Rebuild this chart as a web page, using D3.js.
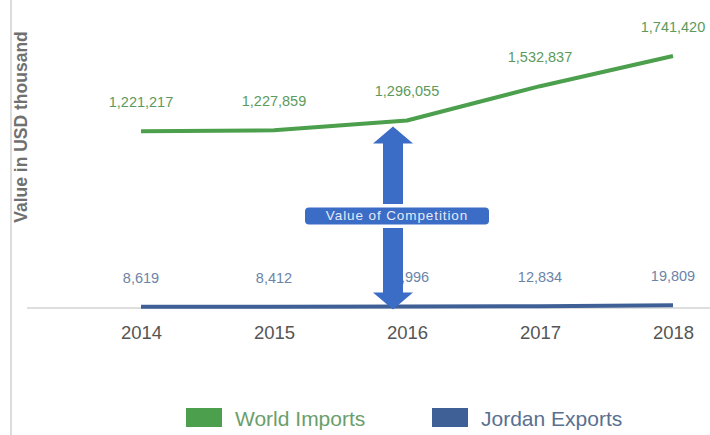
<!DOCTYPE html>
<html>
<head>
<meta charset="utf-8">
<script src="https://cdn.jsdelivr.net/npm/d3@7"></script>
<style>
  html, body { margin: 0; padding: 0; background: #ffffff; }
  svg { display: block; font-family: "Liberation Sans", Arial, sans-serif; }
</style>
</head>
<body>
<svg id="chart" width="710" height="435"></svg>
<script>
// Years on the category axis
const years = ["2014", "2015", "2016", "2017", "2018"];
// World imports, value in USD thousand
const worldImports = [1221217, 1227859, 1296055, 1532837, 1741420];
// Jordan exports, value in USD thousand
const jordanExports = [8619, 8412, 10996, 12834, 19809];
// Legend entries
const seriesNames = ["World Imports", "Jordan Exports"];
const annotationText = "Value of Competition";
const yAxisTitle = "Value in USD thousand";

(function draw() {
  const W = 710, H = 435;
  const svg = d3.select("#chart");

  const green = "#4c9f4c", greenText = "#5c9a5c";
  const blue = "#3f6096", blueText = "#6b84a8";
  const arrowBlue = "#3b6cc6";

  const x = d3.scalePoint().domain(years).range([141, 673]);
  const y = d3.scaleLinear().domain([0, 1741420]).range([308, 56]);

  // left frame rule
  svg.append("line")
    .attr("x1", 11).attr("x2", 11).attr("y1", 0).attr("y2", H)
    .attr("stroke", "#dcdcdc").attr("stroke-width", 2);

  // y axis title
  svg.append("text")
    .attr("transform", `translate(21,127) rotate(-90)`)
    .attr("text-anchor", "middle").attr("dominant-baseline", "central")
    .attr("font-size", 17.5).attr("font-weight", "bold").attr("fill", "#707070")
    .text(yAxisTitle);

  // zero baseline
  svg.append("line")
    .attr("x1", 27).attr("x2", W).attr("y1", y(0)).attr("y2", y(0))
    .attr("stroke", "#dedede").attr("stroke-width", 2);

  // category axis labels
  const xAxis = svg.append("g")
    .attr("transform", `translate(0,${y(0)})`)
    .call(d3.axisBottom(x).tickSize(0).tickPadding(0));
  xAxis.select(".domain").remove();
  xAxis.selectAll("text")
    .attr("y", 25).attr("dy", "0.35em")
    .attr("font-size", 18.5).attr("fill", "#555555")
    .attr("font-family", "Liberation Sans, Arial, sans-serif");

  const line = d3.line().x((d, i) => x(years[i])).y(d => y(d));

  // series lines
  svg.append("path").datum(worldImports)
    .attr("d", line).attr("fill", "none")
    .attr("stroke", green).attr("stroke-width", 4).attr("stroke-linejoin", "round");
  svg.append("path").datum(jordanExports)
    .attr("d", line).attr("fill", "none")
    .attr("stroke", blue).attr("stroke-width", 4).attr("stroke-linejoin", "round");

  const fmt = d3.format(",");

  // value labels
  svg.append("g").selectAll("text").data(worldImports).join("text")
    .attr("x", (d, i) => x(years[i]))
    .attr("y", d => y(d) - 29)
    .attr("text-anchor", "middle").attr("dominant-baseline", "central")
    .attr("font-size", 14.5).attr("fill", greenText)
    .text(d => fmt(d));
  svg.append("g").selectAll("text").data(jordanExports).join("text")
    .attr("x", (d, i) => x(years[i]))
    .attr("y", d => y(d) - 29)
    .attr("text-anchor", "middle").attr("dominant-baseline", "central")
    .attr("font-size", 14.5).attr("fill", blueText)
    .text(d => fmt(d));

  // double-headed arrow between the two series in 2016
  const ax = x("2016") - 14;
  const yTop = y(worldImports[2]) + 6;
  const yBot = y(jordanExports[2]) + 3;
  const shaft = 10, head = 20, headLen = 17;
  const arrowPts = [
    [ax, yTop], [ax + head, yTop + headLen], [ax + shaft, yTop + headLen],
    [ax + shaft, yBot - headLen], [ax + head, yBot - headLen], [ax, yBot],
    [ax - head, yBot - headLen], [ax - shaft, yBot - headLen],
    [ax - shaft, yTop + headLen], [ax - head, yTop + headLen]
  ];
  svg.append("path")
    .attr("d", d3.line()(arrowPts) + "Z")
    .attr("fill", arrowBlue);

  // annotation label box
  const bx = ax + 4, by = (yTop + yBot) / 2 - 2;
  const bw = 184, bh = 17;
  svg.append("rect")
    .attr("x", bx - bw / 2).attr("y", by - bh / 2)
    .attr("width", bw).attr("height", bh).attr("rx", 4)
    .attr("fill", arrowBlue).attr("stroke", "#ffffff").attr("stroke-width", 7);
  svg.append("rect")
    .attr("x", bx - bw / 2).attr("y", by - bh / 2)
    .attr("width", bw).attr("height", bh).attr("rx", 4)
    .attr("fill", arrowBlue);
  svg.append("text")
    .attr("x", bx).attr("y", by)
    .attr("text-anchor", "middle").attr("dominant-baseline", "central")
    .attr("font-size", 13.5).attr("letter-spacing", 0.9)
    .attr("fill", "#e4eaf6")
    .text(annotationText);

  // legend
  const legendColors = [green, blue];
  const legendTextColors = ["#6a9e6a", "#5a7090"];
  const legendX = [186, 432];
  const legend = svg.append("g").selectAll("g").data(seriesNames).join("g")
    .attr("transform", (d, i) => `translate(${legendX[i]},408)`);
  legend.append("rect")
    .attr("width", 36).attr("height", 19)
    .attr("fill", (d, i) => legendColors[i]);
  legend.append("text")
    .attr("x", 49).attr("y", 10).attr("dominant-baseline", "central")
    .attr("font-size", 21).attr("fill", (d, i) => legendTextColors[i])
    .text(d => d);
})();
</script>
</body>
</html>
